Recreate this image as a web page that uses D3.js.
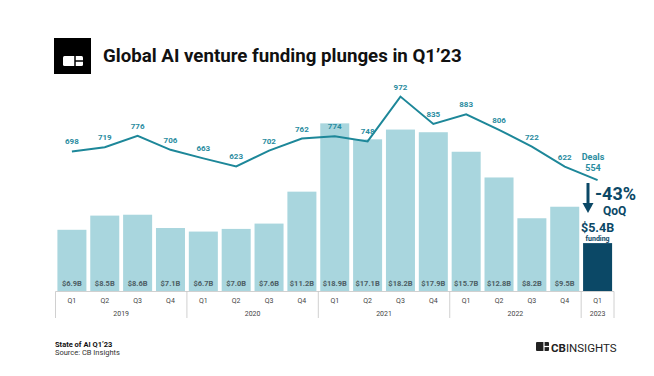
<!DOCTYPE html>
<html><head><meta charset="utf-8">
<script src="https://cdn.jsdelivr.net/npm/d3@7"></script>
<style>body{margin:0;background:#fff}svg{display:block;font-family:Roboto,"Noto Sans",sans-serif}</style>
</head><body><svg id="c" width="654" height="376"></svg>
<script>
const quarters = ["Q1","Q2","Q3","Q4","Q1","Q2","Q3","Q4","Q1","Q2","Q3","Q4","Q1","Q2","Q3","Q4","Q1"];
const years = ["2019","2020","2021","2022","2023"];
const yearSpans = [4,4,4,4,1];
const funding = [6.9,8.5,8.6,7.1,6.7,7.0,7.6,11.2,18.9,17.1,18.2,17.9,15.7,12.8,8.2,9.5,5.4];
const fundingLabels = ["$6.9B","$8.5B","$8.6B","$7.1B","$6.7B","$7.0B","$7.6B","$11.2B","$18.9B","$17.1B","$18.2B","$17.9B","$15.7B","$12.8B","$8.2B","$9.5B","$5.4B"];
const deals = [698,719,776,706,663,623,702,762,774,748,972,835,883,806,722,622,554];

const svg = d3.select("#c");
const light = "#a9d6de", dark = "#0b4866", teal = "#1d8799", tealText = "#2a8ca0";
const idx = d3.range(funding.length);
const x = d3.scaleBand().domain(idx).range([55.5, 614]).paddingInner(0.117).paddingOuter(0.058);
const yF = d3.scaleLinear().domain([0, 20]).range([291, 291 - 177.4]);
const yD = d3.scaleLinear().domain([0, 1000]).range([291, 91]);

// title + logo
svg.append("rect").attr("x",54).attr("y",38).attr("width",37).attr("height",36).attr("fill","#000");
svg.append("rect").attr("x",63).attr("y",56).attr("width",20).attr("height",10).attr("rx",1.5).attr("fill","#fff");
svg.append("line").attr("x1",75).attr("x2",75).attr("y1",56).attr("y2",66).attr("stroke","#000").attr("stroke-width",1.5);
svg.append("line").attr("x1",75).attr("x2",83).attr("y1",61).attr("y2",61).attr("stroke","#000").attr("stroke-width",1.5);
svg.append("text").attr("x",103).attr("y",62).attr("font-size",18.7).attr("font-weight",700).attr("fill","#111")
  .text("Global AI venture funding plunges in Q1\u201923");

// bars
svg.append("g").selectAll("rect").data(idx).join("rect")
  .attr("x", i => x(i)).attr("width", x.bandwidth())
  .attr("y", i => yF(funding[i])).attr("height", i => yF(0) - yF(funding[i]))
  .attr("fill", i => i === funding.length - 1 ? dark : light);
svg.append("g").selectAll("text").data(idx.slice(0, -1)).join("text")
  .attr("x", i => x(i) + x.bandwidth()/2).attr("y", 286).attr("text-anchor","middle")
  .attr("font-size",7.5).attr("font-weight",700).attr("fill","#4d5e64").text(i => fundingLabels[i]);

// axis boxes
const axisG = svg.append("g").attr("stroke","#c4c4c4").attr("stroke-width",0.8);
axisG.append("line").attr("x1",55.5).attr("x2",614).attr("y1",291.5).attr("y2",291.5);
let start = 0;
const bounds = [55.5];
yearSpans.forEach(s => { start += s; const last = start - 1; bounds.push(last === idx.length-1 ? 614 : (x(last) + x.bandwidth() + x(start)) / 2); });
bounds.forEach(b => axisG.append("line").attr("x1",b).attr("x2",b).attr("y1",291.5).attr("y2",318));
svg.append("g").selectAll("text").data(idx).join("text")
  .attr("x", i => x(i) + x.bandwidth()/2).attr("y", 303).attr("text-anchor","middle")
  .attr("font-size",7).attr("fill","#444").text(i => quarters[i]);
svg.append("g").selectAll("text").data(years).join("text")
  .attr("x", (d,i) => (bounds[i] + bounds[i+1]) / 2).attr("y", 316).attr("text-anchor","middle")
  .attr("font-size",7).attr("fill","#444").text(d => d);

// deals line
const line = d3.line().x(i => x(i) + x.bandwidth()/2).y(i => yD(deals[i]));
svg.append("path").datum(idx).attr("d", line).attr("fill","none").attr("stroke",teal).attr("stroke-width",2);
svg.append("g").selectAll("text").data(idx.slice(0, -1)).join("text")
  .attr("x", i => x(i) + x.bandwidth()/2).attr("y", i => yD(deals[i]) - 7).attr("text-anchor","middle")
  .attr("font-size",8).attr("font-weight",700).attr("fill",tealText).text(i => deals[i]);

// last-quarter annotations
const lx = x(idx.length-1) + x.bandwidth()/2;
svg.append("text").attr("x",593).attr("y",160).attr("text-anchor","middle").attr("font-size",9).attr("font-weight",700).attr("fill",tealText).text("Deals");
svg.append("text").attr("x",593).attr("y",171).attr("text-anchor","middle").attr("font-size",9).attr("font-weight",700).attr("fill",tealText).text(deals[deals.length-1]);
svg.append("line").attr("x1",588).attr("x2",588).attr("y1",183).attr("y2",205).attr("stroke",dark).attr("stroke-width",3);
svg.append("path").attr("d","M582.5,203 L593.5,203 L588,213 Z").attr("fill",dark);
svg.append("text").attr("x",595).attr("y",200).attr("font-size",18).attr("font-weight",700).attr("fill",dark).text("-43%");
svg.append("text").attr("x",603).attr("y",215).attr("font-size",12).attr("font-weight",700).attr("fill",dark).text("QoQ");
svg.append("text").attr("x",lx).attr("y",232).attr("text-anchor","middle").attr("font-size",12.5).attr("font-weight",700).attr("fill",dark).text(fundingLabels[fundingLabels.length-1]);
svg.append("text").attr("x",lx).attr("y",240.5).attr("text-anchor","middle").attr("font-size",7).attr("font-weight",700).attr("fill",dark).text("funding");

// footer
svg.append("text").attr("x",55).attr("y",346.5).attr("font-size",7.5).attr("font-weight",700).attr("fill","#111").text("State of AI Q1\u201923");
svg.append("text").attr("x",55).attr("y",355).attr("font-size",7.5).attr("fill","#333").text("Source: CB Insights");
const lg = svg.append("g");
lg.append("rect").attr("x",536).attr("y",342).attr("width",13).attr("height",9).attr("rx",1).attr("fill","#222");
lg.append("line").attr("x1",544).attr("x2",544).attr("y1",342).attr("y2",351).attr("stroke","#fff").attr("stroke-width",1.2);
lg.append("line").attr("x1",544).attr("x2",549).attr("y1",346.5).attr("y2",346.5).attr("stroke","#fff").attr("stroke-width",1.2);
const lt = lg.append("text").attr("x",551).attr("y",351.5).attr("font-size",11.5).attr("fill","#222");
lt.append("tspan").attr("font-weight",700).text("CB");
lt.append("tspan").attr("font-weight",400).text("INSIGHTS");
</script></body></html>
